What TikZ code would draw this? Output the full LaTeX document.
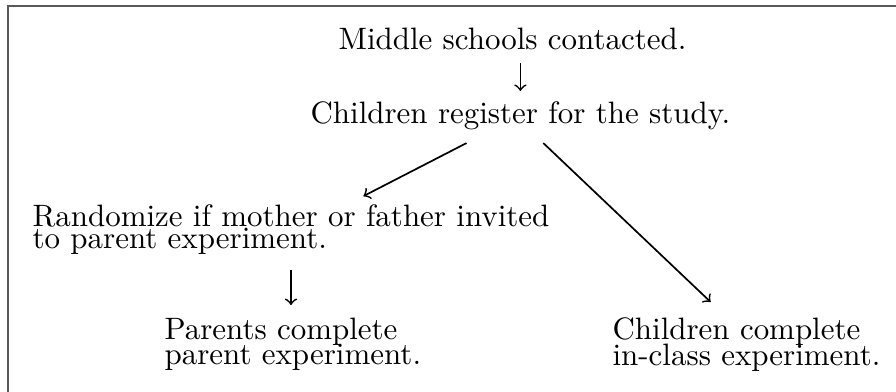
\documentclass[tikz,border=0pt]{standalone}
\newcommand\tightlines[1]{\fontsize{10}{#1}\selectfont\lineskiplimit=-10pt\relax}
\tikzset{
  txt/.style={inner sep=0pt, align=left, font=\tightlines{8.2}},
  arr/.style={->, line width=0.55pt}
}
\begin{document}
\begin{tikzpicture}[x=0.323pt, y=-0.323pt]
    \useasboundingbox (0,0) rectangle (896,392);
    \draw[black!65, line width=0.55pt] (8,400) |- (900,6);
    \node[txt, anchor=base west] (mid) at (338,50) {Middle schools contacted.};
    \node[txt, anchor=base west] (reg) at (310,124) {Children register for the study.};
    \node[txt, anchor=north west, font=\tightlines{6.9}] (rand) at (32,204.5)
        {Randomize if mother or father invited\\to parent experiment.};
    \node[txt, anchor=north west] (par) at (164,317.5) {Parents complete\\parent experiment.};
    \node[txt, anchor=north west] (chi) at (612,317.5) {Children complete\\in-class experiment.};
    \draw[arr, shorten <=3.9pt, shorten >=3.4pt] (reg.north |- mid.south) -- (reg.north);
    \draw[arr] ([xshift=-17.4pt, yshift=-3.9pt]reg.south) -- ([xshift=23.4pt, yshift=2.7pt]rand.north);
    \draw[arr, shorten <=4.8pt, shorten >=4pt] (rand.south) -- (rand.south |- par.north);
    \draw[arr] ([xshift=7.4pt, yshift=-3.9pt]reg.south) -- ([xshift=-11.6pt, yshift=5pt]chi.north);
\end{tikzpicture}
\end{document}
